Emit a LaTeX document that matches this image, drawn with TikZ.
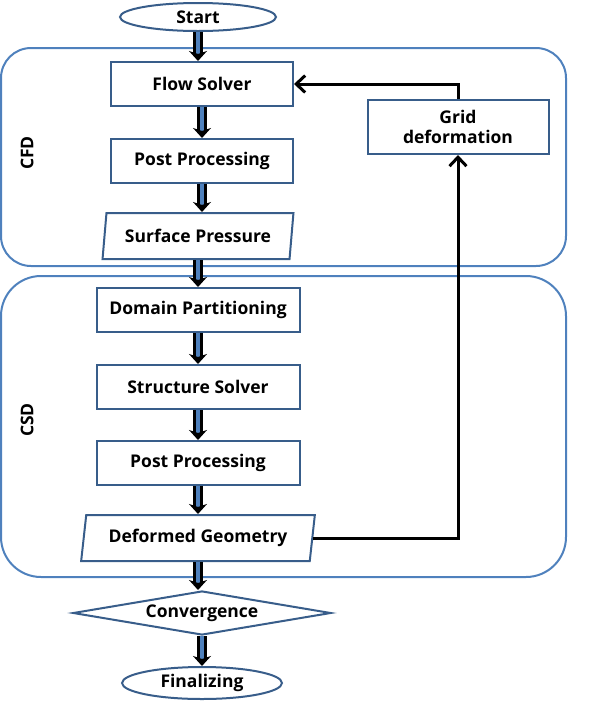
\documentclass[tikz,border=0pt]{standalone}
\usepackage{fontspec}
\setmainfont{Open Sans}
\usetikzlibrary{shapes.geometric,arrows.meta,positioning}

\definecolor{boxline}{HTML}{385D8A}
\definecolor{groupline}{HTML}{4F81BD}

\begin{document}
\begin{tikzpicture}[x=1pt,y=-1pt,
    every node/.style={font=\bfseries\fontsize{17.5}{21}\selectfont},
    proc/.style={draw=boxline, line width=2pt, minimum width=182pt, minimum height=44pt, inner sep=0pt},
    term/.style={draw=boxline, line width=2pt, ellipse, inner sep=0pt},
    io/.style={draw=boxline, line width=2pt, trapezium, trapezium left angle=77, trapezium right angle=103,
        trapezium stretches=true, minimum height=46pt, inner sep=0pt},
    group/.style={draw=groupline, line width=2pt},
    flowarrow/.style={draw=black, double=groupline, double distance=3.6pt, line width=3pt,
        -{Stealth[length=10pt, width=18pt, inset=3pt]}},
    feedback/.style={draw=black, line width=3pt, -{Straight Barb[length=9pt, width=17pt]}}]
    \useasboundingbox (0,0) rectangle (591,705);
    % groups
    \draw[group, rounded corners=30pt] (1,48) rectangle (566,266);
    \draw[group, rounded corners=40pt] (1,276) rectangle (566,577);
    \node[rotate=90] (cfdlabel) at (27,153) {CFD};
    \node[rotate=90] (csdlabel) at (27,420) {CSD};
    % main column
    \node[term, minimum width=156pt, minimum height=28pt] (start) at (198,17) {Start};
    \node[proc] (flow) at (202,84) {Flow Solver};
    \node[proc] (post) at (202,161) {Post Processing};
    \node[io, minimum width=191pt] (surf) at (198,236) {Surface Pressure};
    \node[proc, minimum width=203pt] (domain) at (198,310) {Domain Partitioning};
    \node[proc, minimum width=203pt] (struct) at (198,387) {Structure Solver};
    \node[proc, minimum width=203pt] (post2) at (198,463) {Post Processing};
    \node[io, minimum width=234pt] (defgeo) at (198,538) {Deformed Geometry};
    \node[draw=boxline, line width=2pt, diamond, aspect=5.8, minimum width=258pt, minimum height=44pt,
        inner sep=0pt] (conv) at (202,613) {Convergence};
    \node[term, minimum width=160pt, minimum height=32pt] (final) at (202,683) {Finalizing};
    % side box
    \node[proc, minimum width=181pt, minimum height=54pt, align=center] (grid) at (458,127) {Grid\\[-1pt]deformation};
    % block arrows
    \foreach \a/\b in {start/flow, flow/post, post/surf, surf/domain, domain/struct,
        struct/post2, post2/defgeo, defgeo/conv, conv/final}
        \draw[flowarrow] (\a.south) -- (\a.south |- \b.north);
    % loop back
    \draw[feedback] (defgeo.east) -| (grid.south);
    \draw[feedback] (grid.north) |- (flow.east);
\end{tikzpicture}
\end{document}
